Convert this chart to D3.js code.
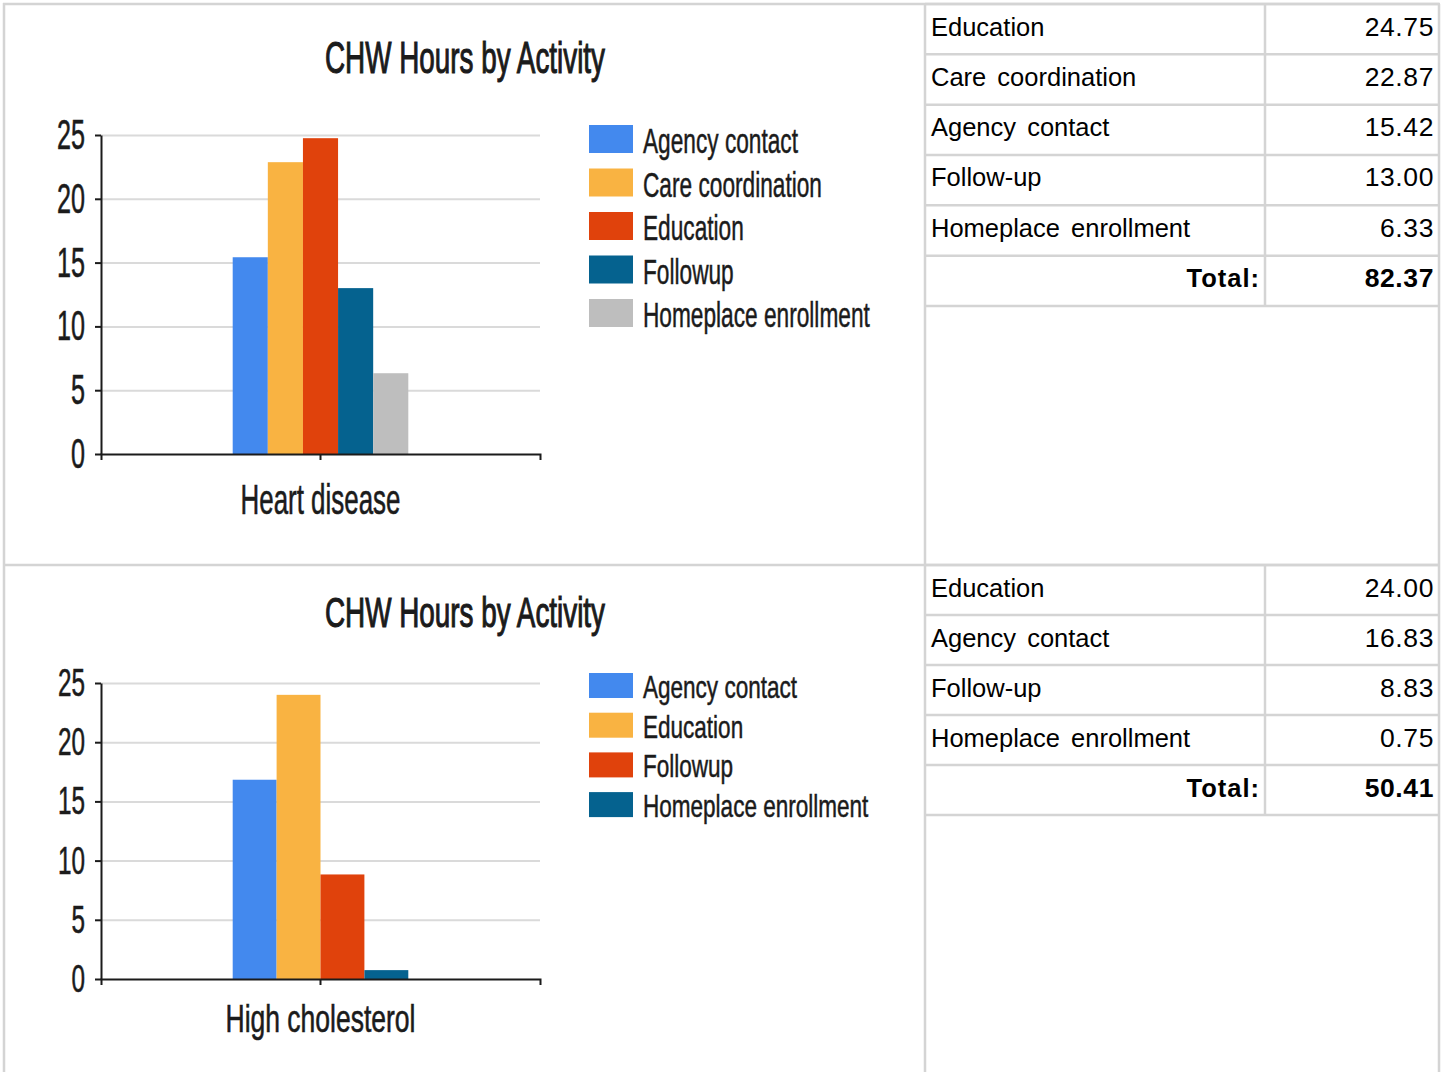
<!DOCTYPE html>
<html>
<head>
<meta charset="utf-8">
<script src="https://cdn.jsdelivr.net/npm/d3@7/dist/d3.min.js"></script>
<style>
  html, body { margin: 0; padding: 0; background: #fff; }
  svg { display: block; }
</style>
</head>
<body>
<svg id="page" width="1445" height="1072"></svg>
<script>
// ---- data ----
const chartTitle = "CHW Hours by Activity";
const yTicks = [0, 5, 10, 15, 20, 25];

const heartCategory = "Heart disease";
const heartSeries = ["Agency contact", "Care coordination", "Education", "Followup", "Homeplace enrollment"];
const heartValues = [15.42, 22.87, 24.75, 13.00, 6.33];

const cholCategory = "High cholesterol";
const cholSeries = ["Agency contact", "Education", "Followup", "Homeplace enrollment"];
const cholValues = [16.83, 24.00, 8.83, 0.75];

const heartTableLabels = ["Education", "Care coordination", "Agency contact", "Follow-up", "Homeplace enrollment"];
const heartTableValues = [24.75, 22.87, 15.42, 13.00, 6.33];

const cholTableLabels = ["Education", "Agency contact", "Follow-up", "Homeplace enrollment"];
const cholTableValues = [24.00, 16.83, 8.83, 0.75];

const totalLabel = "Total:";

// ---- styling ----
const palette = ["#4389EE", "#F9B342", "#E0420C", "#05628F", "#BEBEBE"];
const chartFont = "'Liberation Sans Narrow', 'Liberation Sans', Arial, sans-serif";
const tableFont = "'Liberation Sans', Arial, sans-serif";
const ruleColor = "#d4d4d4";
const inkColor = "#1b1b1b";

const svg = d3.select("#page");

// measure the natural width of a string at a given size
function naturalWidth(str, size, weight) {
  const t = svg.append("text")
    .attr("font-family", chartFont)
    .attr("font-size", size)
    .attr("font-weight", weight || "normal")
    .text(str);
  const w = t.node().getComputedTextLength();
  t.remove();
  return w;
}

// squeeze text horizontally by a factor, keeping its height
function condense(sel, factor) {
  sel.each(function () {
    const w = this.getComputedTextLength();
    d3.select(this)
      .attr("textLength", w * factor)
      .attr("lengthAdjust", "spacingAndGlyphs");
  });
}

// thicken glyph strokes a little
function heavy(sel, w) {
  sel.attr("stroke", inkColor).attr("stroke-width", w).attr("paint-order", "stroke");
}

// ---- panel frame ----
const frame = svg.append("g")
  .attr("stroke", ruleColor)
  .attr("stroke-width", 2.5)
  .attr("fill", "none");
const hRules = [
  [4, 3, 1440], [565, 4, 1440]
];
const vRules = [
  [4, 3, 1072], [925, 4, 1072], [1439, 4, 1072]
];
hRules.forEach(([y, x1, x2]) => frame.append("line").attr("x1", x1).attr("x2", x2).attr("y1", y).attr("y2", y));
vRules.forEach(([x, y1, y2]) => frame.append("line").attr("x1", x).attr("x2", x).attr("y1", y1).attr("y2", y2));

// ---- bar charts ----
const chartLayouts = [
  {
    plot: { left: 101, right: 540, top: 135, bottom: 454 },
    titleX: 465, titleY: 73, titleSize: 44, titleW: 280,
    tickSize: 42, tickRefW: 28,
    catY: 514, catSize: 42, catW: 160,
    legend: { x: 589, top: 125, step: 43.5, sw: 44, sh: 28, textX: 643, size: 35, refW: 155 }
  },
  {
    plot: { left: 101, right: 540, top: 683, bottom: 979 },
    titleX: 465, titleY: 627, titleSize: 42, titleW: 280,
    tickSize: 39, tickRefW: 27,
    catY: 1032, catSize: 39, catW: 190,
    legend: { x: 589, top: 673, step: 39.7, sw: 44, sh: 25, textX: 643, size: 32, refW: 154 }
  }
];

function drawChart(category, series, values, L) {
  const g = svg.append("g");
  const p = L.plot;

  const x0 = d3.scaleBand().domain([category]).range([p.left, p.right]).paddingInner(0).paddingOuter(0.75);
  const x1 = d3.scaleBand().domain(series).range([0, x0.bandwidth()]);
  const y = d3.scaleLinear().domain([0, d3.max(yTicks)]).range([p.bottom, p.top]);

  // gridlines
  g.append("g")
    .attr("transform", `translate(${p.left},0)`)
    .call(d3.axisLeft(y).tickValues(yTicks.filter(v => v > 0)).tickSize(-(p.right - p.left)).tickFormat(""))
    .call(a => a.select(".domain").remove())
    .call(a => a.selectAll("line").attr("stroke", "#dadada").attr("stroke-width", 2));

  // bars
  g.append("g").selectAll("rect")
    .data(series.map((s, i) => ({ s, v: values[i], i })))
    .join("rect")
    .attr("x", d => x0(category) + x1(d.s))
    .attr("width", x1.bandwidth())
    .attr("y", d => y(d.v))
    .attr("height", d => y(0) - y(d.v))
    .attr("fill", d => palette[d.i]);

  // y axis
  const yAxis = g.append("g")
    .attr("transform", `translate(${p.left},0)`)
    .call(d3.axisLeft(y).tickValues(yTicks).tickSize(6).tickSizeOuter(0).tickPadding(10));
  yAxis.select(".domain").attr("stroke", inkColor).attr("stroke-width", 2);
  yAxis.selectAll(".tick line").attr("stroke", inkColor).attr("stroke-width", 2);
  const tickFactor = L.tickRefW / naturalWidth(String(d3.max(yTicks)), L.tickSize);
  yAxis.selectAll(".tick text")
    .attr("font-family", chartFont)
    .attr("font-size", L.tickSize)
    .attr("fill", inkColor)
    .call(condense, tickFactor)
    .call(heavy, 0.6);

  // x axis
  const xAxis = g.append("g")
    .attr("transform", `translate(0,${p.bottom})`)
    .call(d3.axisBottom(x0).tickSize(6).tickSizeOuter(6));
  xAxis.select(".domain").attr("stroke", inkColor).attr("stroke-width", 2);
  xAxis.selectAll(".tick line").attr("stroke", inkColor).attr("stroke-width", 2);
  const catFactor = L.catW / naturalWidth(category, L.catSize);
  xAxis.selectAll(".tick text")
    .attr("font-family", chartFont)
    .attr("font-size", L.catSize)
    .attr("fill", inkColor)
    .attr("y", L.catY - p.bottom)
    .attr("dy", 0)
    .call(condense, catFactor)
    .call(heavy, 0.6);

  // title
  const titleFactor = L.titleW / naturalWidth(chartTitle, L.titleSize);
  g.append("text")
    .attr("x", L.titleX)
    .attr("y", L.titleY)
    .attr("text-anchor", "middle")
    .attr("font-family", chartFont)
    .attr("font-size", L.titleSize)
    .attr("fill", inkColor)
    .text(chartTitle)
    .call(condense, titleFactor)
    .call(heavy, 1.1);

  // legend
  const lg = L.legend;
  const legendFactor = lg.refW / naturalWidth(series[0], lg.size);
  const items = g.append("g").selectAll("g")
    .data(series)
    .join("g")
    .attr("transform", (d, i) => `translate(0,${lg.top + i * lg.step})`);
  items.append("rect")
    .attr("x", lg.x)
    .attr("width", lg.sw)
    .attr("height", lg.sh)
    .attr("fill", (d, i) => palette[i]);
  items.append("text")
    .attr("x", lg.textX)
    .attr("y", lg.sh)
    .attr("font-family", chartFont)
    .attr("font-size", lg.size)
    .attr("fill", inkColor)
    .text(d => d)
    .call(condense, legendFactor)
    .call(heavy, 0.5);
}

drawChart(heartCategory, heartSeries, heartValues, chartLayouts[0]);
drawChart(cholCategory, cholSeries, cholValues, chartLayouts[1]);

// ---- summary tables ----
const tableLayouts = [
  { top: 4, rowH: 50.33 },
  { top: 565, rowH: 50 }
];
const table = { left: 925, split: 1265, right: 1439, padL: 6, padR: 5, baseline: 31.5, size: 25.5 };
const fmt = d3.format(".2f");

function drawTable(labels, values, T) {
  const g = svg.append("g");
  const rows = labels.map((l, i) => ({ label: l, value: fmt(values[i]), bold: false }));
  rows.push({ label: totalLabel, value: fmt(d3.sum(values)), bold: true });
  const bottom = T.top + rows.length * T.rowH;

  const rules = g.append("g").attr("stroke", ruleColor).attr("stroke-width", 2.5);
  rules.selectAll("line.row")
    .data(d3.range(rows.length + 1))
    .join("line")
    .attr("class", "row")
    .attr("x1", table.left).attr("x2", table.right)
    .attr("y1", i => T.top + i * T.rowH).attr("y2", i => T.top + i * T.rowH);
  rules.append("line")
    .attr("x1", table.split).attr("x2", table.split)
    .attr("y1", T.top).attr("y2", bottom);

  const txt = g.append("g")
    .attr("font-family", tableFont)
    .attr("font-size", table.size)
    .attr("fill", "#000");
  rows.forEach((r, i) => {
    const yb = T.top + i * T.rowH + table.baseline;
    if (r.bold) {
      txt.append("text")
        .attr("x", table.split - 5).attr("y", yb)
        .attr("text-anchor", "end").attr("font-weight", "bold")
        .attr("letter-spacing", 1)
        .text(r.label);
    } else {
      txt.append("text")
        .attr("x", table.left + table.padL).attr("y", yb)
        .attr("word-spacing", 4)
        .text(r.label);
    }
    txt.append("text")
      .attr("x", table.right - table.padR).attr("y", yb)
      .attr("text-anchor", "end")
      .attr("font-weight", r.bold ? "bold" : "normal")
      .attr("font-size", 26.5)
      .attr("letter-spacing", 0.6)
      .text(r.value);
  });
}

drawTable(heartTableLabels, heartTableValues, tableLayouts[0]);
drawTable(cholTableLabels, cholTableValues, tableLayouts[1]);
</script>
</body>
</html>
